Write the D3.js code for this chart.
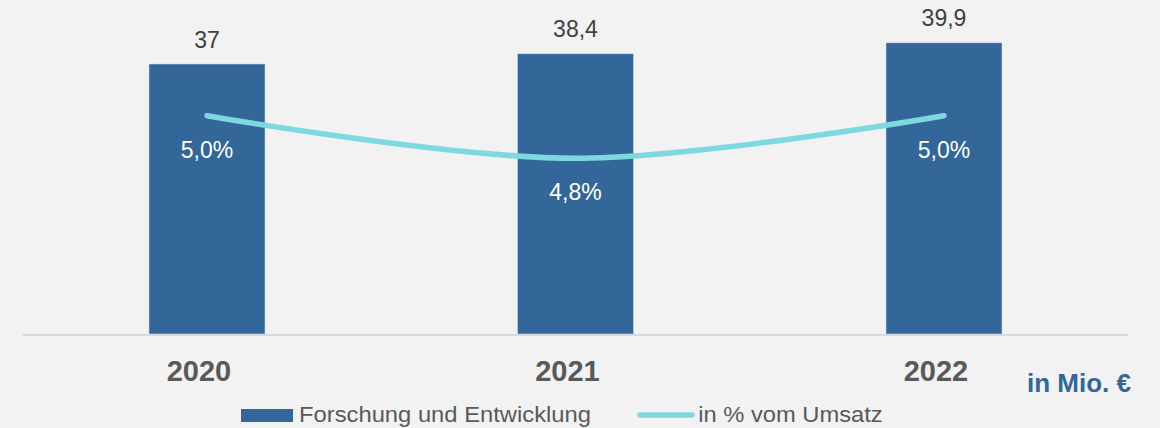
<!DOCTYPE html>
<html>
<head>
<meta charset="utf-8">
<script src="https://cdn.jsdelivr.net/npm/d3@7"></script>
<style>
  body { margin: 0; background: #f2f2f2; font-family: Arial, "Liberation Sans", sans-serif; }
  svg { display: block; }
</style>
</head>
<body>
<div id="chart"></div>
<script>
// data
const years = ["2020", "2021", "2022"];
const fue = [37, 38.4, 39.9];          // Forschung und Entwicklung, Mio. €
const umsatzPct = [5.0, 4.8, 5.0];     // in % vom Umsatz
const legendLabels = ["Forschung und Entwicklung", "in % vom Umsatz"];

const width = 1160, height = 428;
const barColor = "#336699", lineColor = "#7dd8df";
const fmt = v => String(v).replace(".", ",");
const fmtPct = v => v.toFixed(1).replace(".", ",") + "%";

const svg = d3.select("#chart").append("svg")
  .attr("width", width).attr("height", height);

svg.append("rect").attr("width", width).attr("height", height).attr("fill", "#f2f2f2");

const x = d3.scaleBand().domain(years).range([22.75, 1128.25]);
const y = d3.scaleLinear().domain([0, 37]).range([334, 64]);
const y2 = d3.scaleLinear().domain([4.8, 5.0]).range([158.3, 115.7]);
const barW = 116;
const cx = d => x(d) + x.bandwidth() / 2;

// axis line
svg.append("line")
  .attr("x1", x.range()[0]).attr("x2", x.range()[1])
  .attr("y1", 335).attr("y2", 335)
  .attr("stroke", "#d9d9d9").attr("stroke-width", 2);

// bars
svg.selectAll(".bar").data(years).enter().append("rect")
  .attr("class", "bar")
  .attr("x", d => cx(d) - barW / 2)
  .attr("width", barW)
  .attr("y", (d, i) => y(fue[i]))
  .attr("height", (d, i) => y(0) - y(fue[i]))
  .attr("fill", barColor)
  .attr("stroke", "#c9d6e4").attr("stroke-width", 0.6);

// bar value labels
svg.selectAll(".val").data(years).enter().append("text")
  .attr("x", d => cx(d))
  .attr("y", (d, i) => y(fue[i]) - 16.5)
  .attr("text-anchor", "middle")
  .attr("font-size", 23).attr("fill", "#404040")
  .text((d, i) => fmt(fue[i]));

// line
const line = d3.line()
  .x(d => cx(d))
  .y((d, i) => y2(umsatzPct[i]))
  .curve(d3.curveCatmullRom.alpha(0.5));
svg.append("path")
  .attr("d", line(years))
  .attr("fill", "none")
  .attr("stroke", lineColor).attr("stroke-width", 5.5)
  .attr("stroke-linecap", "round");

// pct labels
svg.selectAll(".pct").data(years).enter().append("text")
  .attr("x", d => cx(d))
  .attr("y", (d, i) => y2(umsatzPct[i]) + 42)
  .attr("text-anchor", "middle")
  .attr("font-size", 23).attr("fill", "#ffffff")
  .text((d, i) => fmtPct(umsatzPct[i]));

// year labels
svg.selectAll(".year").data(years).enter().append("text")
  .attr("x", d => cx(d) - 8)
  .attr("y", 381)
  .attr("text-anchor", "middle")
  .attr("font-size", 29).attr("font-weight", "bold").attr("fill", "#595959")
  .text(d => d);

// unit
svg.append("text")
  .attr("x", 1131).attr("y", 391.5)
  .attr("text-anchor", "end")
  .attr("font-size", 26).attr("font-weight", "bold").attr("fill", barColor)
  .text("in Mio. €");

// legend
const lg = svg.append("g");
lg.append("rect").attr("x", 241).attr("y", 409).attr("width", 52).attr("height", 13).attr("fill", barColor);
lg.append("text").attr("x", 299).attr("y", 421.7)
  .attr("font-size", 22).attr("fill", "#595959")
  .attr("textLength", 292).attr("lengthAdjust", "spacingAndGlyphs")
  .text(legendLabels[0]);
lg.append("line").attr("x1", 640).attr("x2", 692).attr("y1", 415).attr("y2", 415)
  .attr("stroke", lineColor).attr("stroke-width", 5.5).attr("stroke-linecap", "round");
lg.append("text").attr("x", 698.3).attr("y", 421.7)
  .attr("font-size", 22).attr("fill", "#595959")
  .attr("textLength", 184.4).attr("lengthAdjust", "spacingAndGlyphs")
  .text(legendLabels[1]);
</script>
</body>
</html>
